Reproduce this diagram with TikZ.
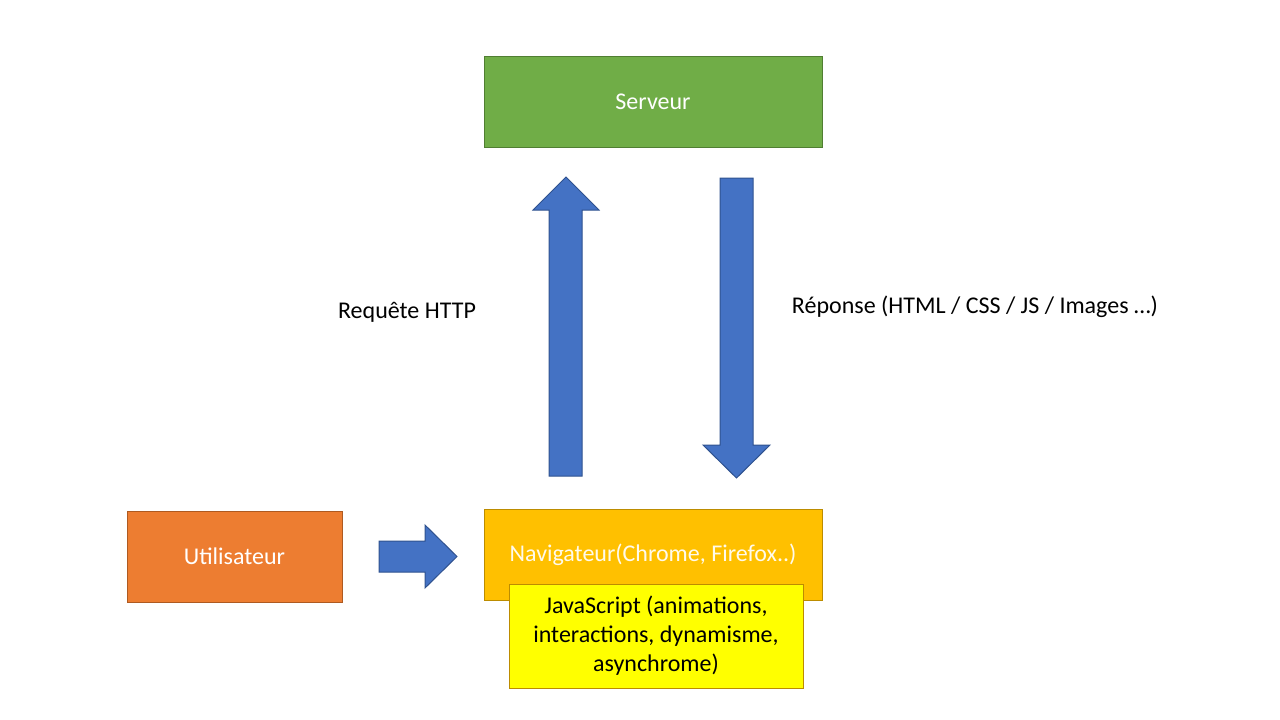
\documentclass[tikz,border=0pt]{standalone}
\usepackage{fontspec}
\setmainfont{Carlito}
\definecolor{bleu}{HTML}{4472C4}
\definecolor{bleubord}{HTML}{2F528F}
\definecolor{vert}{HTML}{70AD47}
\definecolor{vertbord}{HTML}{507E32}
\definecolor{orange}{HTML}{ED7D31}
\definecolor{orangebord}{HTML}{AE5A21}
\definecolor{ambre}{HTML}{FFC000}
\definecolor{ambrebord}{HTML}{BC8C00}
\definecolor{jaune}{HTML}{FFFF00}

\begin{document}
\begin{tikzpicture}[x=1pt,y=-1pt,
  boite/.style={draw, line width=1pt, inner sep=0pt, text=white,
    font=\fontsize{24}{29}\selectfont},
  fleche/.style={fill=bleu, draw=bleubord, line width=1pt, line join=miter},
  legende/.style={font=\fontsize{24}{29}\selectfont}]
\useasboundingbox (0,0) rectangle (1280,720);
\node[boite, fill=vert, draw=vertbord, minimum width=338, minimum height=91] (serveur) at (653,101.5) {Serveur};
\node[boite, fill=orange, draw=orangebord, minimum width=215, minimum height=91] (utilisateur) at (234.5,556.5) {Utilisateur};
\node[boite, fill=ambre, draw=ambrebord, minimum width=338, minimum height=91, text=white!92!ambre] (navigateur) at (653,554.5) {Navigateur(Chrome, Firefox..)};
\node[boite, fill=jaune, draw=ambrebord, minimum width=294, minimum height=104, text=black, align=center] (js) at (656,636) {JavaScript (animations,\\interactions, dynamisme,\\asynchrome)};
\node[legende] (requete) at (407,312) {Requête HTTP};
\node[legende] (reponse) at (975,307) {Réponse (HTML / CSS / JS / Images …)};
% requete vers le serveur
\draw[fleche] (549,476) -- (549,210) -- (533,210) -- (566,177) -- (599,210) -- (582,210) -- (582,476) -- cycle;
% reponse vers le navigateur
\draw[fleche] (720,178) -- (720,445) -- (703,445) -- (736.5,478) -- (770,445) -- (753,445) -- (753,178) -- cycle;
% utilisateur vers navigateur
\draw[fleche] (379,541) -- (425,541) -- (425,525) -- (457,556.5) -- (425,588) -- (425,572) -- (379,572) -- cycle;
\end{tikzpicture}
\end{document}
